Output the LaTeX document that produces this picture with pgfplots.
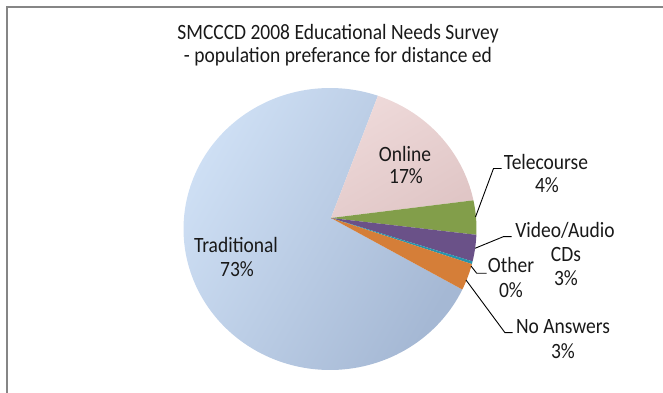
\documentclass[border=0pt]{standalone}
\usepackage{fontspec}
\setmainfont{Carlito}
\usepackage{graphicx}
\usepackage{pgfplots}
\usepackage{pgfplotstable}
\pgfplotsset{compat=1.18}

\definecolor{tradA}{RGB}{206,223,244}
\definecolor{tradB}{RGB}{165,184,212}
\definecolor{onlA}{RGB}{238,217,217}
\definecolor{onlB}{RGB}{224,198,198}
\definecolor{tele}{RGB}{130,158,74}
\definecolor{video}{RGB}{106,81,136}
\definecolor{other}{RGB}{40,148,172}
\definecolor{noans}{RGB}{213,126,56}
\definecolor{framec}{RGB}{134,134,134}

% share of each answer, in percent (clockwise from the first slice)
\pgfplotstableread{
name value
Online 17.2
Telecourse 3.8
VideoAudio 2.9
Other 0.3
NoAnswers 2.9
Traditional 72.9
}\piedata

\newcommand\getv[2]{\pgfplotstablegetelem{#1}{value}\of\piedata\global\let#2\pgfplotsretval}
\getv{0}\vA \getv{1}\vB \getv{2}\vC \getv{3}\vD \getv{4}\vE \getv{5}\vF
\pgfmathsetmacro\tA{21}
\pgfmathsetmacro\tB{\tA+3.6*\vA}
\pgfmathsetmacro\tC{\tB+3.6*\vB}
\pgfmathsetmacro\tD{\tC+3.6*\vC}
\pgfmathsetmacro\tE{\tD+3.6*\vD}
\pgfmathsetmacro\tF{\tE+3.6*\vE}
\pgfmathsetmacro\tG{\tF+3.6*\vF}

\newcommand\Lb[1]{\scalebox{1}[1.12]{#1}}

\begin{document}
\begin{tikzpicture}[every node/.style={font=\fontsize{19.5bp}{23bp}\selectfont, text=black!90}]
\path[use as bounding box] (0,0) rectangle (663bp,393bp);
\draw[framec, line width=1.5bp] (7bp,-5bp) -- (7bp,386bp) -- (670bp,386bp);
\begin{axis}[at={(0,0)}, anchor=south west, x=1bp, y=1bp,
  xmin=0, xmax=663, ymin=0, ymax=393, hide axis, clip=false, scale only axis,
  declare function={
    Aq(\t)=(sin(\t))^2+1.07952*(cos(\t))^2;
    Bq(\t)=2*(0.006826*sin(\t)+1.07952*0.075085*cos(\t));
    rr(\t)=(-Bq(\t)+sqrt((Bq(\t))^2+4*Aq(\t)*0.993867))/(2*Aq(\t));
  }]
\addplot[draw=none, top color=tradA, bottom color=tradB, shading angle=60,
  domain=\tF:\tG, samples=140]
  ({331+146.5*rr(x)*sin(x)},{175+146.5*rr(x)*cos(x)}) -- (331,175) -- cycle;
\addplot[draw=none, top color=onlA, bottom color=onlB, shading angle=30,
  domain=\tA:\tB, samples=40]
  ({331+146.5*rr(x)*sin(x)},{175+146.5*rr(x)*cos(x)}) -- (331,175) -- cycle;
\addplot[draw=none, fill=tele, domain=\tB:\tC, samples=15]
  ({331+146.5*rr(x)*sin(x)},{175+146.5*rr(x)*cos(x)}) -- (331,175) -- cycle;
\addplot[draw=none, fill=video, domain=\tC:\tD, samples=12]
  ({331+146.5*rr(x)*sin(x)},{175+146.5*rr(x)*cos(x)}) -- (331,175) -- cycle;
\addplot[draw=none, fill=other, domain=\tD:\tE, samples=4]
  ({331+146.5*rr(x)*sin(x)},{175+146.5*rr(x)*cos(x)}) -- (331,175) -- cycle;
\addplot[draw=none, fill=noans, domain=\tE:\tF, samples=12]
  ({331+146.5*rr(x)*sin(x)},{175+146.5*rr(x)*cos(x)}) -- (331,175) -- cycle;

% leader lines
\addplot[black, line width=0.9bp] coordinates {(475.5,176) (493.5,224.5) (501.5,224.5)};
\addplot[black, line width=0.9bp] coordinates {(475,144.7) (503.3,156.3) (511.7,156.3)};
\addplot[black, line width=0.9bp] coordinates {(471,127) (476.7,119.7) (486.7,119.7)};
\addplot[black, line width=0.9bp] coordinates {(466,113) (505,60.3) (512.7,60.3)};

% title
\node[anchor=base] at (338,353) {\Lb{SMCCCD 2008 Educational Needs Survey}};
\node[anchor=base] at (338,330.3) {\Lb{- population preferance for distance ed}};
% data labels
\node[anchor=base] at (405,231.3) {\Lb{Online}};
\node[anchor=base] at (406,209) {\Lb{17\%}};
\node[anchor=base] at (236,140) {\Lb{Traditional}};
\node[anchor=base] at (237,116) {\Lb{73\%}};
\node[anchor=base] at (546,223) {\Lb{Telecourse}};
\node[anchor=base] at (547,200) {\Lb{4\%}};
\node[anchor=base] at (565,155) {\Lb{Video/Audio}};
\node[anchor=base] at (566,131) {\Lb{CDs}};
\node[anchor=base] at (566,107) {\Lb{3\%}};
\node[anchor=base] at (511,120) {\Lb{Other}};
\node[anchor=base] at (511,95) {\Lb{0\%}};
\node[anchor=base] at (563,59) {\Lb{No Answers}};
\node[anchor=base] at (563,34) {\Lb{3\%}};
\end{axis}
\end{tikzpicture}
\end{document}
